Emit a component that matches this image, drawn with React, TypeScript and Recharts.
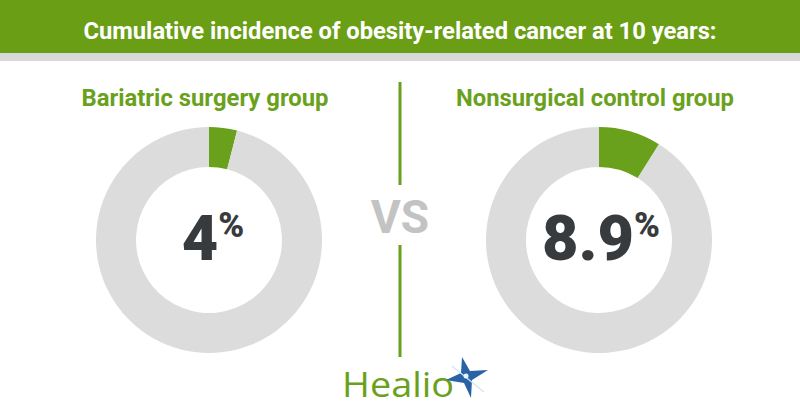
import React from 'react';
import { PieChart, Pie, Cell } from 'recharts';

const groups = ['Bariatric surgery group', 'Nonsurgical control group'];
const incidence = [4, 8.9];
const valueLabels = ['4', '8.9'];
const title = 'Cumulative incidence of obesity-related cancer at 10 years:';

const GREEN = '#6aa11c';
const HEADER = '#6a9e14';
const RING = '#dcdcdc';
const DARK = '#383b3e';

const centers = [209, 599];
const titleWidths = [247, 278];

export default function App() {
  const pies = incidence.map((v) => [
    { name: 'Cancer', value: v },
    { name: 'No cancer', value: 100 - v },
  ]);
  return (
    <div style={{ position: 'absolute', left: 0, top: 0, width: 800, height: 420, background: '#fff' }}>
      <PieChart width={800} height={420} margin={{ top: 0, right: 0, bottom: 0, left: 0 }}>
        <rect x={0} y={0} width={800} height={53} fill={HEADER} />
        <rect x={0} y={53} width={800} height={8} fill="#d9d9d9" />
        <text x={400} y={39} textAnchor="middle" fill="#fff" fontFamily="Roboto" fontWeight={700} fontSize={23}
          textLength={633} lengthAdjust="spacingAndGlyphs">{title}</text>
        {pies.map((d, i) => (
          <Pie key={i} data={d} dataKey="value" cx={centers[i]} cy={240} innerRadius={73} outerRadius={113}
            startAngle={90} endAngle={-270} stroke="none" isAnimationActive={false}>
            <Cell fill={GREEN} />
            <Cell fill={RING} />
          </Pie>
        ))}
        {groups.map((g, i) => (
          <text key={g} x={centers[i] - 4} y={106} textAnchor="middle" fill={GREEN} fontFamily="Roboto" fontWeight={700} fontSize={23}
            textLength={titleWidths[i]} lengthAdjust="spacingAndGlyphs">{g}</text>
        ))}
        {valueLabels.map((v, i) => (
          <text key={v} x={centers[i] + (i === 0 ? 4 : 2)} y={260} textAnchor="middle" fill={DARK} fontFamily="Roboto" fontWeight={900} fontSize={63}>
            {v}
            <tspan fontSize={35} dy={-23}>%</tspan>
          </text>
        ))}
        <line x1={400} y1={82} x2={400} y2={185} stroke={GREEN} strokeWidth={3} />
        <line x1={400} y1={245} x2={400} y2={357} stroke={GREEN} strokeWidth={3} />
        <text x={400} y={233} textAnchor="middle" fill="#c3c3c3" fontFamily="Roboto" fontWeight={700} fontSize={46}>VS</text>
        <text x={342} y={397} fill={GREEN} fontFamily="Open Sans" fontWeight={500} fontSize={35}
          textLength={112} lengthAdjust="spacingAndGlyphs">Healio</text>
        <polygon points="462,357 470,371 488,370 472,380 471,398 464,383 446,380 461,373" fill="#2a62a6" />
        <line x1={452} y1={366} x2={484} y2={392} stroke="#cfe6f7" strokeWidth={1.2} />
        <circle cx={466} cy={376} r={2.5} fill="#e8f4fc" />
      </PieChart>
    </div>
  );
}
